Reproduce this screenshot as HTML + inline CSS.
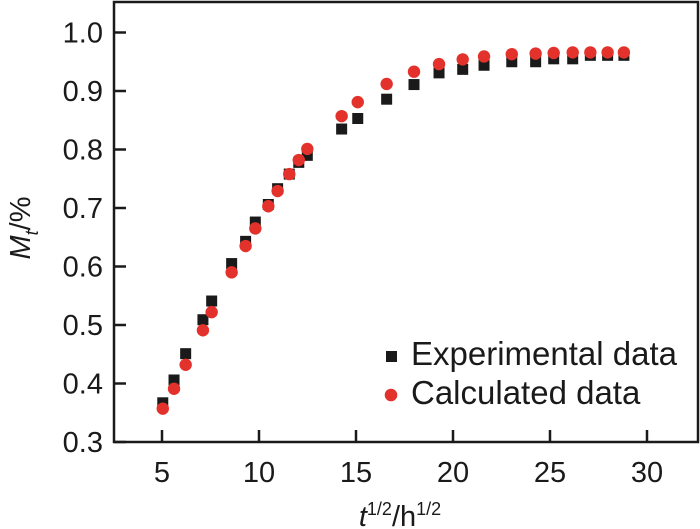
<!DOCTYPE html>
<html><head><meta charset="utf-8"><style>
body{margin:0;background:#fff;}
svg{display:block;font-family:"Liberation Sans",Arial,sans-serif;}
</style></head><body>
<svg id="chart" width="700" height="529" viewBox="0 0 700 529" xmlns="http://www.w3.org/2000/svg">
<rect x="114" y="2" width="584" height="440" fill="none" stroke="#1a1a1a" stroke-width="2.5"/>
<g id="ticks"></g>
<g id="marks"></g>
<g>
<rect x="386" y="351" width="11" height="11" fill="#1a1a1a"/>
<text x="411" y="365" font-size="33" fill="#1a1a1a">Experimental data</text>
<circle cx="391" cy="395" r="6.3" fill="#e3322c"/>
<text x="411" y="404" font-size="33" fill="#1a1a1a">Calculated data</text>
</g>
<text x="400" y="526" font-size="29" text-anchor="middle" fill="#1a1a1a"><tspan font-style="italic">t</tspan><tspan font-size="18" dy="-11">1/2</tspan><tspan dy="11">/h</tspan><tspan font-size="18" dy="-11">1/2</tspan></text>
<text transform="translate(30,228) rotate(-90)" font-size="29" text-anchor="middle" fill="#1a1a1a"><tspan font-style="italic">M</tspan><tspan font-style="italic" font-size="18" dy="8">t</tspan><tspan dy="-8">/%</tspan></text>
</svg>
<script>
const xVals=[5.04,5.62,6.22,7.11,7.56,8.59,9.31,9.81,10.48,10.96,11.56,12.05,12.49,14.26,15.09,16.58,17.99,19.28,20.5,21.6,23.03,24.26,25.19,26.17,27.08,27.97,28.81];
const expVals=[0.367,0.406,0.451,0.509,0.541,0.605,0.643,0.676,0.706,0.733,0.758,0.778,0.790,0.835,0.853,0.886,0.911,0.931,0.937,0.944,0.950,0.950,0.955,0.955,0.961,0.961,0.961];
const calcVals=[0.357,0.391,0.432,0.491,0.522,0.590,0.635,0.665,0.703,0.729,0.758,0.782,0.801,0.857,0.881,0.912,0.933,0.946,0.954,0.959,0.963,0.964,0.965,0.966,0.966,0.966,0.966];
const xTicks=[5,10,15,20,25,30];
const yTicks=[0.3,0.4,0.5,0.6,0.7,0.8,0.9,1.0];
const NS="http://www.w3.org/2000/svg";
function sx(v){return 162+(v-5)*19.4;}
function sy(v){return 442-(v-0.3)*585;}
const tg=document.getElementById('ticks'),mg=document.getElementById('marks');
function mk(tag,attrs,parent){const e=document.createElementNS(NS,tag);for(const k in attrs)e.setAttribute(k,attrs[k]);parent.appendChild(e);return e;}
xTicks.forEach(t=>{
 const l=mk('line',{x1:sx(t),x2:sx(t),y1:442,y2:430,stroke:'#1a1a1a','stroke-width':2.5},tg);
 
 
 const tx=mk('text',{x:sx(t),y:482,'font-size':29,'text-anchor':'middle',fill:'#1a1a1a'},tg);
 tx.textContent=t;
 
 
});
yTicks.forEach(t=>{
 const l=mk('line',{x1:114,x2:126,y1:sy(t),y2:sy(t),stroke:'#1a1a1a','stroke-width':2.5},tg);
 
 
 const tx=mk('text',{x:103,y:sy(t)+10,'font-size':29,'text-anchor':'end',fill:'#1a1a1a'},tg);
 tx.textContent=t.toFixed(1);
 
 
});
xVals.forEach((x,i)=>{
 const r=mk('rect',{x:sx(x)-5.5,y:sy(expVals[i])-5.5,width:11,height:11,fill:'#1a1a1a'},mg);
 
 
});
xVals.forEach((x,i)=>{
 const c=mk('circle',{cx:sx(x),cy:sy(calcVals[i]),r:6.2,fill:'#e3322c'},mg);
 
 
});
</script>
</body></html>
